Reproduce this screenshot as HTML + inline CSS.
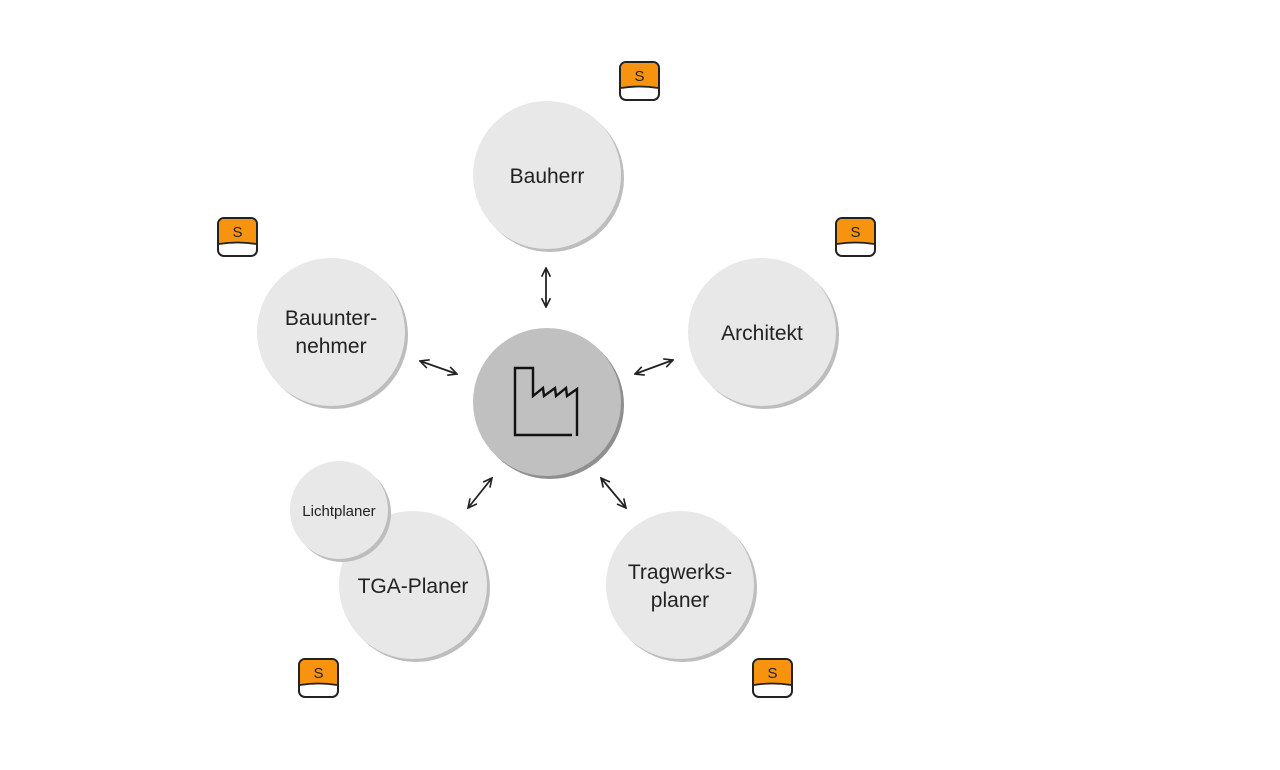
<!DOCTYPE html>
<html><head><meta charset="utf-8"><style>
html,body{margin:0;padding:0;background:#fff;}
svg{display:block;}
text{font-family:"Liberation Sans",sans-serif;fill:#222;text-anchor:middle;}
</style></head><body>
<svg width="1280" height="770" viewBox="0 0 1280 770" xmlns="http://www.w3.org/2000/svg">
<defs>
<marker id="ah" viewBox="0 0 10 10" refX="9" refY="5" markerWidth="11" markerHeight="11" orient="auto-start-reverse" markerUnits="userSpaceOnUse">
<path d="M1,1 L9,5 L1,9" fill="none" stroke="#222" stroke-width="1.5"/>
</marker>
<g id="s">
<rect x="1" y="1" width="39" height="38" rx="6" fill="#fff" stroke="#222" stroke-width="2"/>
<path d="M2,7 a5,5 0 0 1 5,-5 h27 a5,5 0 0 1 5,5 v20 q-18.5,-3 -37,0 z" fill="#f7930e"/>
<path d="M2,27 q18.5,-3 37,0" fill="none" stroke="#222" stroke-width="1.8"/>
<text x="20.5" y="20" font-size="15" style="fill:#222">S</text>
</g>
</defs>
<g fill="#bdbdbd">
<circle cx="550" cy="178" r="74"/><circle cx="765" cy="335" r="74"/><circle cx="334" cy="335" r="74"/>
<circle cx="416" cy="588" r="74"/><circle cx="683" cy="588" r="74"/>
</g>
<circle cx="547" cy="175" r="74" fill="#e8e8e8"/>
<circle cx="762" cy="332" r="74" fill="#e8e8e8"/>
<circle cx="331" cy="332" r="74" fill="#e8e8e8"/>
<circle cx="413" cy="585" r="74" fill="#e8e8e8"/>
<circle cx="680" cy="585" r="74" fill="#e8e8e8"/>
<circle cx="342" cy="513" r="49" fill="#bdbdbd"/>
<circle cx="339" cy="510" r="49" fill="#e8e8e8"/>
<circle cx="550" cy="405" r="74" fill="#8f8f8f"/>
<circle cx="547" cy="402" r="74" fill="#c0c0c0"/>
<path d="M572,435 H515 V368 H533 V396 L543,388 L544,396 L555,388 L556,396 L566,388 L567,396 L577,389 V436" fill="none" stroke="#111" stroke-width="2.4"/>
<text x="547" y="183" font-size="21">Bauherr</text>
<text x="762" y="340" font-size="21">Architekt</text>
<text x="331" y="325" font-size="21">Bauunter-</text>
<text x="331" y="353" font-size="21">nehmer</text>
<text x="413" y="593" font-size="21">TGA-Planer</text>
<text x="680" y="579" font-size="21">Tragwerks-</text>
<text x="680" y="607" font-size="21">planer</text>
<text x="339" y="516" font-size="15">Lichtplaner</text>
<g stroke="#222" stroke-width="1.8" marker-start="url(#ah)" marker-end="url(#ah)">
<line x1="546" y1="268" x2="546" y2="307"/>
<line x1="420" y1="361" x2="457" y2="374"/>
<line x1="635" y1="374" x2="673" y2="360"/>
<line x1="468" y1="508" x2="492" y2="478"/>
<line x1="601" y1="478" x2="626" y2="508"/>
</g>
<use href="#s" x="619" y="61"/>
<use href="#s" x="217" y="217"/>
<use href="#s" x="835" y="217"/>
<use href="#s" x="298" y="658"/>
<use href="#s" x="752" y="658"/>
</svg>
</body></html>
